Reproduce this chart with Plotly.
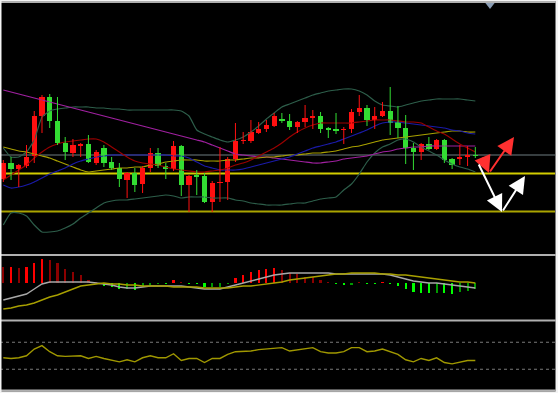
import plotly.graph_objects as go

# ---------------- data ----------------
opens = [121,137,131,134,144,184,203,179,157,147,
         154,156,137,152,138,132,120,127,116,132,
         147,134,131,154,115,125,124,98,117,118,
         141,159,159,167,171,174,181,179,173,178,
         182,184,172,171,170,171,188,192,180,184,
         189,178,172,152,148,156,151,160,141,141,
         143,145]
closes = [137,131,135,143,184,203,179,157,148,155,
          156,138,148,137,132,121,127,115,132,147,
          134,131,154,115,124,123,98,117,118,141,
          159,160,168,171,175,184,179,173,178,182,
          184,171,170,169,171,188,192,180,184,189,
          177,172,152,148,156,151,160,140,135,143,
          145,144]
highs = [140,143,136,155,189,205,206,203,163,161,
         157,165,150,155,143,137,128,132,134,152,
         152,137,159,155,125,130,127,119,153,143,
         177,168,180,178,180,187,187,186,179,195,
         190,188,173,187,173,191,205,195,193,198,
         213,194,185,157,157,163,161,161,142,155,
         154,153]
lows = [118,120,113,132,137,167,172,155,140,143,
        143,137,135,133,130,113,102,108,107,128,
        132,121,129,104,88,105,97,88,98,100,
        138,156,157,166,168,173,177,170,167,173,
        171,167,162,166,156,167,184,174,171,183,
        165,162,136,130,140,150,150,137,131,135,
        134,142]

ma_long = [210,208,206,204,202,200,198,196,194,192,
           190,188,186,184,182,180,178,176,174,172,
           170,168,166,164,162,160,158,155,152,149,
           146,145,144,143,143,142,141,140,139,138,
           137,137,138,139,141,142,143,144,146,148,
           149,151,152,153,153,154,154,154,154,154,
           154,154]
ma_blue = [115,112,113,115,118,122,126,129,132,136,
           139,141,143,144,145,145,145,145,145,145,
           145,145,144,144,142,138,134,132,130,130,
           130,131,133,135,137,139,141,143,146,149,
           152,154,156,158,161,164,167,170,174,177,
           178,178,177,176,175,174,173,172,170,169,
           167,166]
bb_mid = [120,125,130,135,142,148,153,156,158,159,
          160,161,161,158,153,148,143,139,137,136,
          135,133,131,130,129,128,128,129,130,132,
          135,137,140,144,148,152,157,163,168,172,
          175,177,177,177,177,177,178,179,180,180,
          180,179,178,178,177,173,169,166,161,156,
          152,148]
ma_olive = [153,151,149,148,146,144,142,139,136,133,
            130,128,129,130,131,132,132,133,133,135,
            136,138,139,140,140,140,139,139,139,140,
            140,141,142,142,143,143,144,145,145,146,
            147,147,148,149,151,153,154,156,158,160,
            161,162,163,164,165,166,167,168,169,169,
            168,168]
bb_upper = [152,143,143,148,160,183,189,191,192,193,
            193,193,192,192,191,191,190,190,190,190,
            190,190,190,189,184,170,166,163,160,158,
            160,163,168,174,181,187,193,196,199,202,
            205,207,209,210,211,211,209,205,199,195,
            194,193,195,197,199,200,201,201,201,201,
            200,199]
bb_lower = [75,87,87,84,75,68,68,69,72,76,
            82,87,92,97,99,100,100,101,102,103,
            104,105,104,102,103,103,103,102,102,102,
            100,99,97,96,95,95,95,96,97,97,
            99,101,102,103,110,116,126,138,147,153,
            156,160,161,158,153,149,145,140,136,133,
            131,128]

macd_hist = [1.6,1.6,1.5,1.6,2.0,2.4,2.3,2.0,1.4,1.1,
             0.8,0.3,0.1,-0.25,-0.4,-0.6,-0.55,-0.7,-0.4,-0.2,
             -0.1,-0.1,0.3,0.05,-0.1,-0.1,-0.42,-0.4,-0.38,-0.1,
             0.5,0.8,1.1,1.3,1.4,1.5,1.3,1.0,0.9,0.6,
             0.58,0.3,0.1,-0.1,-0.15,-0.12,0.1,-0.1,-0.1,0.1,
             -0.1,-0.25,-0.6,-0.9,-1.0,-1.0,-0.95,-1.0,-1.1,-0.9,
             -0.8,-0.6]
macd_main = [-1.7,-1.5,-1.3,-1.1,-0.6,-0.1,0.1,0.1,0.1,0.1,
             0.1,0.1,0.0,-0.1,-0.2,-0.4,-0.5,-0.5,-0.4,-0.3,
             -0.3,-0.3,-0.3,-0.3,-0.4,-0.5,-0.6,-0.6,-0.6,-0.4,
             -0.2,0.0,0.2,0.4,0.6,0.8,0.9,1.0,1.0,1.0,
             1.0,1.0,1.0,0.9,0.9,0.9,0.9,0.9,0.9,0.9,
             0.8,0.6,0.4,0.2,0.1,0.0,0.0,-0.1,-0.2,-0.3,
             -0.4,-0.5]
macd_signal = [-2.6,-2.5,-2.3,-2.2,-2.0,-1.7,-1.4,-1.2,-0.9,-0.6,
               -0.3,-0.2,-0.1,0.0,-0.1,-0.1,-0.2,-0.2,-0.3,-0.3,
               -0.3,-0.3,-0.4,-0.4,-0.4,-0.4,-0.5,-0.5,-0.5,-0.5,
               -0.4,-0.3,-0.3,-0.2,-0.1,0.0,0.1,0.3,0.4,0.5,
               0.6,0.7,0.8,0.9,0.9,1.0,1.0,1.0,1.0,0.9,
               0.9,0.8,0.8,0.7,0.6,0.5,0.4,0.3,0.2,0.1,
               0.1,0.0]
rsi = [47,46,47,50,60,65,56,50,49,50,
       50,46,49,46,44,41,44,41,47,50,
       47,47,53,43,46,46,40,46,46,52,
       56,56,57,59,60,62,62,57,59,60,
       62,56,54,54,56,62,62,56,57,60,
       56,52,44,41,46,43,47,40,38,41,
       43,43]
rsi_levels = [70, 30]

level_gray = 145
level_yellow = [126.5, 88.5]

red_arrow_x = [61.86, 62.77, 66.0]
red_arrow_y = [144, 127, 163]
white_arrow_x = [61.35, 64.45, 67.42]
white_arrow_y = [137, 88, 124]
shift_marker = (62.9, 296)

# ---------------- figure ----------------
W, H = 558, 393
UP, DOWN = "#ff1010", "#33dd33"

def pf(px):  # pixel row -> paper fraction
    return (H - px) / H

idx = list(range(len(opens)))
fig = go.Figure()

# indicator lines (under candles)
line_specs = [
    (bb_upper, "#2d5e4a", 1.2),
    (bb_lower, "#2d5e4a", 1.2),
    (ma_long, "#a020a0", 1.2),
    (ma_olive, "#a8a000", 1.2),
    (ma_blue, "#1a1aa8", 1.2),
    (bb_mid, "#9a0000", 1.2),
]
for vals, col, w in line_specs:
    fig.add_trace(go.Scatter(x=idx, y=vals, mode="lines", yaxis="y",
                             line=dict(color=col, width=w, shape="spline", smoothing=0.5),
                             hoverinfo="skip"))

# wicks
for up, col in [(True, UP), (False, DOWN)]:
    wx, wy = [], []
    for i in idx:
        if (closes[i] >= opens[i]) == up:
            wx += [i, i, None]
            wy += [lows[i], highs[i], None]
    fig.add_trace(go.Scatter(x=wx, y=wy, mode="lines", yaxis="y",
                             line=dict(color=col, width=1), hoverinfo="skip"))

# bodies
body_base = [min(o, c) for o, c in zip(opens, closes)]
body_h = [max(abs(c - o), 0.8) for o, c in zip(opens, closes)]
body_col = [UP if c >= o else DOWN for o, c in zip(opens, closes)]
fig.add_trace(go.Bar(x=idx, y=body_h, base=body_base, width=0.68, yaxis="y",
                     marker=dict(color=body_col, line=dict(width=0)), hoverinfo="skip"))

# MACD histogram
hcol = []
for i, v in enumerate(macd_hist):
    bright = i > 0 and abs(v) >= abs(macd_hist[i - 1])
    if v >= 0:
        hcol.append("#ff0000" if bright else "#8c0000")
    else:
        hcol.append("#00ff00" if bright else "#009a00")
fig.add_trace(go.Bar(x=idx, y=macd_hist, width=0.28, yaxis="y2",
                     marker=dict(color=hcol, line=dict(width=0)), hoverinfo="skip"))
fig.add_trace(go.Scatter(x=idx, y=macd_main, mode="lines", yaxis="y2",
                         line=dict(color="#a8a8a8", width=1.4), hoverinfo="skip"))
fig.add_trace(go.Scatter(x=idx, y=macd_signal, mode="lines", yaxis="y2",
                         line=dict(color="#a8a000", width=1.4), hoverinfo="skip"))

# RSI
fig.add_trace(go.Scatter(x=idx, y=rsi, mode="lines", yaxis="y3",
                         line=dict(color="#a09800", width=1.4), hoverinfo="skip"))

# shift marker
fig.add_trace(go.Scatter(x=[shift_marker[0]], y=[shift_marker[1]], mode="markers", yaxis="y",
                         cliponaxis=False,
                         marker=dict(symbol="triangle-down", size=10, color="#8a9db4"),
                         hoverinfo="skip"))

shapes = []
# price levels
shapes.append(dict(type="line", xref="paper", yref="y", x0=0, x1=555 / W,
                   y0=level_gray, y1=level_gray, line=dict(color="#6f7c80", width=1), layer="below"))
for lv, col in zip(level_yellow, ["#d2cc00", "#aaa400"]):
    shapes.append(dict(type="line", xref="paper", yref="y", x0=0, x1=555 / W,
                       y0=lv, y1=lv, line=dict(color=col, width=2), layer="below"))
# rsi levels
for lv in rsi_levels:
    shapes.append(dict(type="line", xref="paper", yref="y3", x0=0, x1=555 / W,
                       y0=lv, y1=lv, line=dict(color="#7a7a7a", width=1, dash="dot"), layer="below"))
# pane separators
for py in [2, 255, 320.5, 390.5]:
    shapes.append(dict(type="line", xref="paper", yref="paper", x0=0, x1=555.5 / W,
                       y0=pf(py), y1=pf(py), line=dict(color="#b0b0b0", width=2)))
# white frame strips
for x0, x1, y0, y1 in [(0, 1.5, 0, H), (555.5, W, 0, H), (0, W, 391.5, H), (0, W, 0, 1)]:
    shapes.append(dict(type="rect", xref="paper", yref="paper", x0=x0 / W, x1=x1 / W,
                       y0=pf(y1), y1=pf(y0), fillcolor="#f4f4f4", line=dict(width=0)))

# arrows
annotations = []
for ax_, ay_, col in [(red_arrow_x, red_arrow_y, "#ff3030"), (white_arrow_x, white_arrow_y, "#ffffff")]:
    for k in range(2):
        annotations.append(dict(x=ax_[k + 1], y=ay_[k + 1], ax=ax_[k], ay=ay_[k],
                                xref="x", yref="y", axref="x", ayref="y", text="",
                                showarrow=True, arrowhead=2, arrowsize=1.7, arrowwidth=2,
                                arrowcolor=col))

noax = dict(showgrid=False, zeroline=False, showticklabels=False, ticks="", showline=False)
fig.update_layout(
    width=W, height=H, margin=dict(l=0, r=0, t=0, b=0, pad=0),
    paper_bgcolor="#000000", plot_bgcolor="#000000",
    showlegend=False, barmode="overlay", bargap=0,
    xaxis=dict(range=[-3.3 / 7.738, (W - 3.3) / 7.738], **noax),
    yaxis=dict(domain=[pf(254), pf(2)], range=[46, 298], **noax),
    yaxis2=dict(domain=[pf(319), pf(256)], range=[-3.6, 2.7], anchor="x", **noax),
    yaxis3=dict(domain=[pf(389.5), pf(322)], range=[0, 100], anchor="x", **noax),
    shapes=shapes, annotations=annotations,
)

fig.write_html("out.html", config={"displayModeBar": False},
               post_script="document.body.style.margin='0';document.body.style.overflow='hidden';")
